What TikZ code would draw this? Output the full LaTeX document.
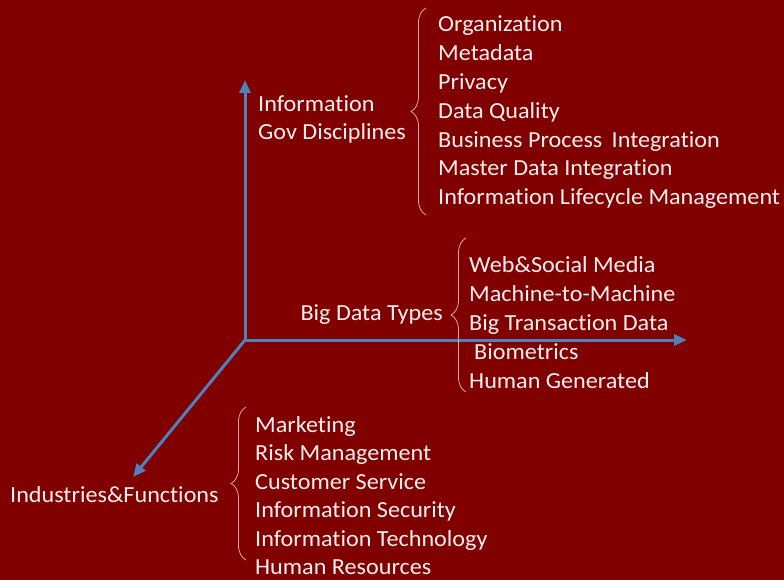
\documentclass[tikz,border=0pt]{standalone}
\usepackage{fontspec}
\setmainfont[Ligatures=NoCommon, FakeStretch=1.05]{Carlito}
\usetikzlibrary{arrows.meta,decorations.pathreplacing}
\definecolor{bgred}{RGB}{128,0,0}
\definecolor{axisblue}{RGB}{79,129,189}
\definecolor{txt}{RGB}{252,238,238}
\definecolor{bracecol}{RGB}{224,168,168}
\tikzset{
  lbl/.style={anchor=base west, inner sep=0pt, text=txt, font=\fontsize{23}{27}\selectfont},
  axis/.style={draw=axisblue, line width=3pt, -{Triangle[length=13pt,width=11pt]}},
  curly/.style={draw=bracecol, line width=0.8pt, decorate,
    decoration={brace, amplitude=15pt, aspect=0.5}}
}
\begin{document}
\begin{tikzpicture}[x=1pt,y=-1pt]
\fill[bgred] (0,0) rectangle (784,580);
\useasboundingbox (0,0) rectangle (784,580);

% axes
\coordinate (O) at (245,340);
\coordinate (up) at (245,80);
\coordinate (right) at (687,340);
\coordinate (down) at (133,477);
\draw[axis] (O) -- (up);
\draw[axis] (O) -- (right);
\draw[axis] (O) -- (down);

% governance disciplines
\node[lbl] (info1) at (258,112) {Information};
\node[lbl] (info2) at (258,140) {Gov Disciplines};
\draw[curly] (426,215) -- (426,8);
\node[lbl] (g1) at (438,32) {Organization};
\node[lbl] (g2) at (438,60.8) {Metadata};
\node[lbl] (g3) at (438,89.6) {Privacy};
\node[lbl] (g4) at (438,118.4) {Data Quality};
\node[lbl] (g5) at (438,147.2) {Business Process\, Integration};
\node[lbl] (g6) at (438,176) {Master Data Integration};
\node[lbl] (g7) at (438,204.8) {Information Lifecycle Management};

% big data types
\node[lbl, anchor=base east] (bdt) at (443,320) {Big Data Types};
\draw[curly] (466,392) -- (466,238);
\node[lbl] (b1) at (469,272) {Web\&Social Media};
\node[lbl] (b2) at (469,301) {Machine-to-Machine};
\node[lbl] (b3) at (469,330) {Big Transaction Data};
\node[lbl] (b4) at (474,359) {Biometrics};
\node[lbl] (b5) at (469,388) {Human Generated};

% industries and functions
\node[lbl] (ind) at (10,502) {Industries\&Functions};
\draw[curly] (246,560) -- (246,407);
\node[lbl] (f1) at (255,432) {Marketing};
\node[lbl] (f2) at (255,460.5) {Risk Management};
\node[lbl] (f3) at (255,489) {Customer Service};
\node[lbl] (f4) at (255,517.5) {Information Security};
\node[lbl] (f5) at (255,546) {Information Technology};
\node[lbl] (f6) at (255,574.5) {Human Resources};
\end{tikzpicture}
\end{document}
